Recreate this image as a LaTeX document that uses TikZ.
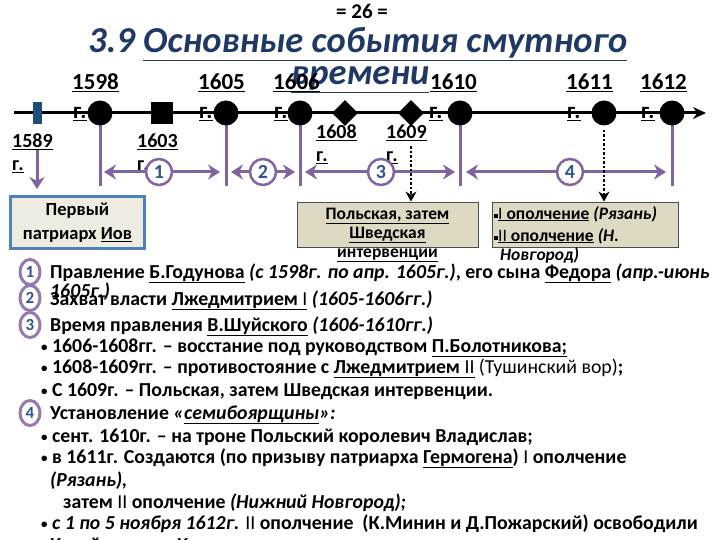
\documentclass[tikz,border=0pt]{standalone}
\usepackage{fontspec}
\setmainfont{Carlito}
\usetikzlibrary{arrows.meta,shapes.geometric}
\definecolor{purp}{HTML}{8064A2}
\definecolor{numblue}{HTML}{2F5597}
\definecolor{navy}{HTML}{1F3864}
\definecolor{boxfill}{HTML}{DDD9C3}
\definecolor{boxfilltwo}{HTML}{EEECE1}
\definecolor{boxblue}{HTML}{4F81BD}
\definecolor{markblue}{HTML}{1F4E79}
\newcommand\mybul{{\fontsize{13}{13}\selectfont\raisebox{1pt}{•}}}
\tikzset{
  yr/.style={anchor=base west, inner sep=0, font=\bfseries\fontsize{23}{23}\selectfont},
  yrs/.style={anchor=base west, inner sep=0, font=\bfseries\fontsize{20}{20}\selectfont},
  dot/.style={circle, fill=black, minimum size=25, inner sep=0},
  dia/.style={diamond, fill=black, minimum size=26, inner sep=0},
  pline/.style={purp, line width=3},
  parr/.style={purp, line width=3, {Stealth[length=12pt,width=15pt]}-{Stealth[length=12pt,width=15pt]}},
  numc/.style={circle, draw=purp, line width=2.5, fill=white, minimum size=26, inner sep=0, text=numblue, font=\bfseries\fontsize{20}{20}\selectfont},
  numl/.style={ellipse, draw=purp!85, line width=3, fill=white, minimum width=20, minimum height=25, inner sep=0, text=numblue, font=\bfseries\fontsize{17}{17}\selectfont},
  dline/.style={black, line width=2.5, dotted, -{Stealth[length=10pt,width=11pt]}},
  txt/.style={anchor=base west, inner sep=0, font=\bfseries\fontsize{19.8}{20}\selectfont},
  btxt/.style={inner sep=0, font=\bfseries\fontsize{17.5}{19}\selectfont}
}
\begin{document}
\begin{tikzpicture}[x=1pt,y=-1pt]
\useasboundingbox (0,0) rectangle (720,540);
\clip (0,0) rectangle (720,540);
% header
\node[anchor=base, inner sep=0, font=\bfseries\fontsize{21}{21}\selectfont] (pg) at (362,19) {= 26 =};
\node[anchor=base west, inner sep=0, text=navy, font=\bfseries\itshape\fontsize{36.5}{36.5}\selectfont] (t1) at (88,53) {3.9 \underline{Основные события смутного}};
\node[anchor=base west, inner sep=0, text=navy, font=\bfseries\itshape\fontsize{36.5}{36.5}\selectfont] (t2) at (291,85) {\underline{времени}};
% top years
\node[yr] (y1598) at (72,90) {\underline{1598}};
\node[yr] (y1605) at (198,90) {\underline{1605}};
\node[yr] (y1606) at (273,90) {\underline{1606}};
\node[yr] (y1610) at (430,90) {\underline{1610}};
\node[yr] (y1611) at (566,90) {\underline{1611}};
\node[yr] (y1612) at (640,90) {\underline{1612}};
\node[yr] (g1598) at (73,119) {\underline{г.}};
\node[yr] (g1605) at (199,119) {\underline{г.}};
\node[yr] (g1606) at (274,119) {\underline{г.}};
\node[yr] (g1610) at (429,119) {\underline{г.}};
\node[yr] (g1611) at (567,119) {\underline{г.}};
\node[yr] (g1612) at (641,119) {\underline{г.}};
% lower years
\node[yrs] (y1589) at (12,148) {\underline{1589}};
\node[yrs] (g1589) at (12,171) {\underline{г.}};
\node[yrs] (y1603) at (137,148) {\underline{1603}};
\node[yrs] (g1603) at (137,171) {\underline{г.}};
\node[yrs] (y1608) at (316,139) {\underline{1608}};
\node[yrs] (g1608) at (316,162) {\underline{г.}};
\node[yrs] (y1609) at (386,139) {\underline{1609}};
\node[yrs] (g1609) at (386,162) {\underline{г.}};
% timeline
\coordinate (tl0) at (14,113);
\coordinate (tl1) at (706,113);
\draw[line width=3, -{Stealth[length=13pt,width=12pt]}] (tl0) -- (tl1);
% purple verticals
\coordinate (v1598) at (100,186);
\coordinate (v1605) at (226,186);
\coordinate (v1606) at (300,186);
\coordinate (v1610) at (460,186);
\coordinate (v1612) at (672,186);
\draw[pline] (100,113) -- (v1598);
\draw[pline] (226,113) -- (v1605);
\draw[pline] (300,113) -- (v1606);
\draw[pline] (460,113) -- (v1610);
\draw[pline] (672,113) -- (v1612);
% markers
\node[fill=markblue, minimum width=9, minimum height=22, inner sep=0] (m1589) at (37,113) {};
\node[dot] (c1598) at (100,113) {};
\node[fill=black, minimum size=22, inner sep=0] (s1603) at (162,113) {};
\node[dot] (c1605) at (226,113) {};
\node[dot] (c1606) at (300,113) {};
\node[dia] (d1608) at (345,113) {};
\node[dia] (d1609) at (411,113) {};
\node[dot] (c1610) at (460,113) {};
\node[dot] (c1611) at (604,113) {};
\node[dot] (c1612) at (672,113) {};
% boxes
\node[draw=boxblue, line width=3, fill=boxfilltwo, minimum width=134, minimum height=51, inner sep=0, align=center, font=\bfseries\fontsize{18.5}{24}\selectfont] (b1) at (77.5,222.5) {Первый\\патриарх \underline{Иов}};
\node[draw=black!70, line width=0.8, fill=boxfill, minimum width=181, minimum height=45, inner sep=0] (b2) at (387.5,224.5) {};
\node[draw=black!70, line width=0.8, fill=boxfill, minimum width=186, minimum height=45, inner sep=0] (b3) at (585,224.5) {};
\node[btxt, anchor=north, align=center] (b2t) at (387.5,207.5) {\underline{Польская, затем}\\\underline{Шведская}\\\underline{интервенции}};
\node[btxt, anchor=base west] (b3a) at (494,219) {\rule[1pt]{4pt}{4pt}\underline{\textmd{I} ополчение} \textit{(Рязань)}};
\node[btxt, anchor=base west] (b3b) at (494,241) {\rule[1pt]{4pt}{4pt}\underline{\textmd{II} ополчение} \textit{(Н.}};
\node[btxt, anchor=base west] (b3c) at (500,260) {\textit{Новгород)}};
% arrows
\coordinate (a0s) at (37,150);
\coordinate (a0e) at (37,189);
\draw[purp, line width=3, -{Stealth[length=12pt,width=15pt]}] (a0s) -- (a0e);
\coordinate (a1l) at (104,172);
\coordinate (a1r) at (220,172);
\coordinate (a2l) at (231,172);
\coordinate (a2r) at (295,172);
\coordinate (a3l) at (305,172);
\coordinate (a3r) at (455,172);
\coordinate (a4l) at (466,172);
\coordinate (a4r) at (666,172);
\draw[parr] (a1l) -- (a1r);
\draw[parr] (a2l) -- (a2r);
\draw[parr] (a3l) -- (a3r);
\draw[parr] (a4l) -- (a4r);
\node[numc] (n1) at (159,172) {1};
\node[numc] (n2) at (263,172) {2};
\node[numc] (n3) at (381,172) {3};
\node[numc] (n4) at (570,172) {4};
% dotted
\draw[dline] (d1609.south) ++(0,20) coordinate (dd1) -- (b2.north -| d1609);
\draw[dline] (c1611.south) ++(0,4) coordinate (dd2) -- (b3.north -| c1611);
% list
\node[numl] (l1) at (30,272) {1};
\node[numl] (l2) at (30,298) {2};
\node[numl] (l3) at (30,325) {3};
\node[numl] (l4) at (30,413) {4};
\node[txt] (r1) at (50,278) {Правление \underline{Б.Годунова} \textit{(с 1598г. по апр. 1605г.)}, его сына \underline{Федора} \textit{(апр.-июнь}};
\node[txt] (r1b) at (50,297) {\textit{1605г.)}};
\node[txt] (r2) at (50,305) {Захват власти \underline{Лжедмитрием \textmd{I}} \textit{(1605-1606гг.)}};
\node[txt] (r3) at (50,331) {Время правления \underline{В.Шуйского} \textit{(1606-1610гг.)}};
\node[txt] (r4) at (41,352) {\mybul\ 1606-1608гг. – восстание под руководством \underline{П.Болотникова;}};
\node[txt] (r5) at (41,373) {\mybul\ 1608-1609гг. – противостояние с \underline{Лжедмитрием \textmd{II}} \textmd{(Тушинский вор)};};
\node[txt] (r6) at (41,396) {\mybul\ С 1609г. – Польская, затем Шведская интервенции.};
\node[txt] (r7) at (50,419) {Установление \textit{«\underline{семибоярщины}»:}};
\node[txt] (r8) at (41,442) {\mybul\ сент. 1610г. – на троне Польский королевич Владислав;};
\node[txt] (r9) at (41,463) {\mybul\ в 1611г. Создаются (по призыву патриарха \underline{Гермогена}) \textmd{I} ополчение};
\node[txt] (r10) at (50,486) {\textit{(Рязань),}};
\node[txt] (r11) at (63,508) {затем \textmd{II} ополчение \textit{(Нижний Новгород);}};
\node[txt] (r12) at (41,529) {\mybul\ \textit{с 1 по 5 ноября 1612г.} \textmd{II} ополчение~ (К.Минин и Д.Пожарский) освободили};
\node[txt] (r13) at (50,551) {Китай-город и Кремль от поляков.};
\end{tikzpicture}
\end{document}
